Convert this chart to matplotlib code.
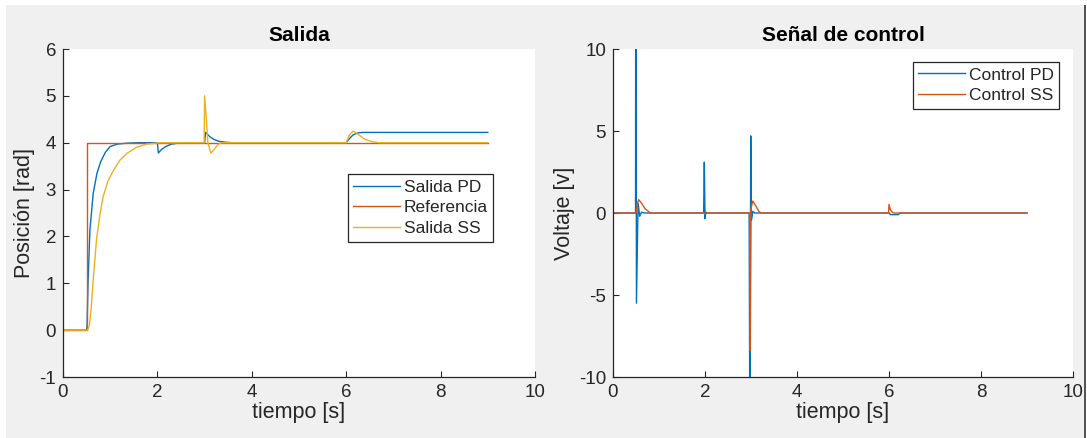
import matplotlib

matplotlib.use("Agg")
import matplotlib.pyplot as plt
from matplotlib.patches import Rectangle

plt.rcParams.update(
    {
        "font.family": ["Liberation Sans", "DejaVu Sans"],
        "axes.linewidth": 0.9,
        "axes.unicode_minus": False,
        "xtick.direction": "in",
        "ytick.direction": "in",
    }
)

# MATLAB default colour order
C_BLUE = "#0072BD"
C_ORANGE = "#D95319"
C_YELLOW = "#EDB120"

# ---- Salida (output position) ----
t_pd = [0, 0.5, 0.51, 0.53, 0.57, 0.64, 0.72, 0.8, 0.9, 1.0, 1.15, 1.35, 1.6,
        2.0, 2.02, 2.08, 2.18, 2.3, 2.5, 3.0, 3.02, 3.06, 3.12, 3.2, 3.3, 3.45,
        3.6, 6.0, 6.08, 6.15, 6.25, 6.35, 9.0]
y_pd = [0, 0, 0.1, 1.0, 2.14, 2.92, 3.35, 3.6, 3.8, 3.92, 3.97, 3.99, 4.0,
        4.0, 3.78, 3.85, 3.92, 3.97, 4.0, 4.0, 4.22, 4.18, 4.12, 4.07, 4.03, 4.01,
        4.0, 4.0, 4.1, 4.17, 4.21, 4.22, 4.22]

t_ref = [0, 0.5, 0.5, 9.0]
y_ref = [0, 0, 4, 4]

t_ss = [0, 0.52, 0.56, 0.6, 0.64, 0.71, 0.78, 0.85, 0.95, 1.07, 1.2, 1.35,
        1.55, 1.77, 2.06, 2.99, 3.0, 3.03, 3.07, 3.13, 3.2, 3.28, 3.35, 6.0,
        6.07, 6.15, 6.25, 6.4, 6.55, 6.7, 9.0]
y_ss = [0, 0, 0.1, 0.5, 1.08, 1.93, 2.45, 2.85, 3.18, 3.41, 3.62, 3.77,
        3.9, 3.97, 4.0, 4.0, 5.0, 4.6, 4.0, 3.78, 3.85, 3.96, 4.0, 4.0,
        4.17, 4.25, 4.18, 4.07, 4.02, 4.0, 4.0]

# ---- Señal de control ----
t_upd = [0, 0.49, 0.495, 0.51, 0.545, 0.58, 0.62, 0.68, 0.75, 1.97, 1.985,
         2.0, 2.02, 2.04, 2.07, 2.96, 2.975, 2.995, 3.01, 3.04, 3.08, 3.12,
         6.0, 6.03, 6.1, 6.2, 6.25, 9.0]
u_pd = [0, 0, 22, -5.5, 0.6, -0.2, 0.05, 0, 0, 0, 3.1,
        -0.35, 0.05, 0, 0, 0, -14, 4.7, -0.45, 0.1, 0, 0,
        0, -0.1, -0.1, -0.1, 0, 0]

t_uss = [0, 0.5, 0.53, 0.56, 0.62, 0.7, 0.8, 0.85, 2.97, 2.985, 3.0, 3.04,
         3.1, 3.17, 3.22, 5.99, 6.0, 6.03, 6.08, 6.12, 9.0]
u_ss = [0, 0, 0.6, 0.81, 0.6, 0.25, 0.03, 0, 0, -8.4, 0.3, 0.73,
        0.45, 0.1, 0, 0, 0.52, 0.2, 0.02, 0, 0]

FIG_W, FIG_H = 1087, 438
fig = plt.figure(figsize=(FIG_W / 100, FIG_H / 100), dpi=100, facecolor="white")
# MATLAB window background (screenshot has a thin white margin top/left)
fig.patches.append(
    Rectangle((6 / FIG_W, 0), (1084 - 6) / FIG_W, (FIG_H - 5) / FIG_H,
              transform=fig.transFigure, facecolor="#f0f0f0", edgecolor="none",
              zorder=-10)
)
fig.patches.append(
    Rectangle((1084 / FIG_W, 0), 1.5 / FIG_W, (FIG_H - 5) / FIG_H,
              transform=fig.transFigure, facecolor="#555555", edgecolor="none",
              zorder=-9)
)

bottom = (FIG_H - 377) / FIG_H
height = 328 / FIG_H
ax1 = fig.add_axes([63 / FIG_W, bottom, 472 / FIG_W, height])
ax2 = fig.add_axes([613 / FIG_W, bottom, 460 / FIG_W, height])

lw = 1.0
ax1.plot(t_pd, y_pd, color=C_BLUE, lw=lw, label="Salida PD")
ax1.plot(t_ref, y_ref, color=C_ORANGE, lw=lw, label="Referencia")
ax1.plot(t_ss, y_ss, color=C_YELLOW, lw=lw, label="Salida SS")

ax2.plot(t_upd, u_pd, color=C_BLUE, lw=lw, label="Control PD")
ax2.plot(t_uss, u_ss, color=C_ORANGE, lw=lw, label="Control SS")

ax1.set_xlim(0, 10)
ax1.set_ylim(-1, 6)
ax1.set_yticks(range(-1, 7))
ax2.set_xlim(0, 10)
ax2.set_ylim(-10, 10)
ax2.set_yticks([-10, -5, 0, 5, 10])

for ax in (ax1, ax2):
    ax.set_facecolor("white")
    ax.set_xticks(range(0, 11, 2))
    for side in ("top", "right"):
        ax.spines[side].set_visible(False)
    for side in ("left", "bottom"):
        ax.spines[side].set_color("#262626")
    ax.tick_params(colors="#262626", labelsize=13.5, length=4, width=0.8, pad=5)
    ax.set_xlabel("tiempo [s]", fontsize=15.5, color="#262626", labelpad=1)

ax1.set_ylabel("Posición [rad]", fontsize=15.5, color="#262626", labelpad=3)
ax2.set_ylabel("Voltaje [v]", fontsize=15.5, color="#262626", labelpad=3)
ax1.set_title("Salida", fontsize=15, fontweight="bold", pad=6)
ax2.set_title("Señal de control", fontsize=15, fontweight="bold", pad=6)

leg_kw = dict(fontsize=12.5, fancybox=False, framealpha=1, edgecolor="#262626",
              borderaxespad=0, handlelength=2.7, handletextpad=0.2,
              labelspacing=0.32, borderpad=0.32)
leg1 = ax1.legend(loc="upper left", bbox_to_anchor=(0.603, 0.619), **leg_kw)
leg2 = ax2.legend(loc="upper right", bbox_to_anchor=(0.970, 0.961), **leg_kw)
for leg in (leg1, leg2):
    leg.get_frame().set_linewidth(0.9)
    for txt in leg.get_texts():
        txt.set_color("#262626")

fig.savefig("out.png", dpi=100, facecolor=fig.get_facecolor())
